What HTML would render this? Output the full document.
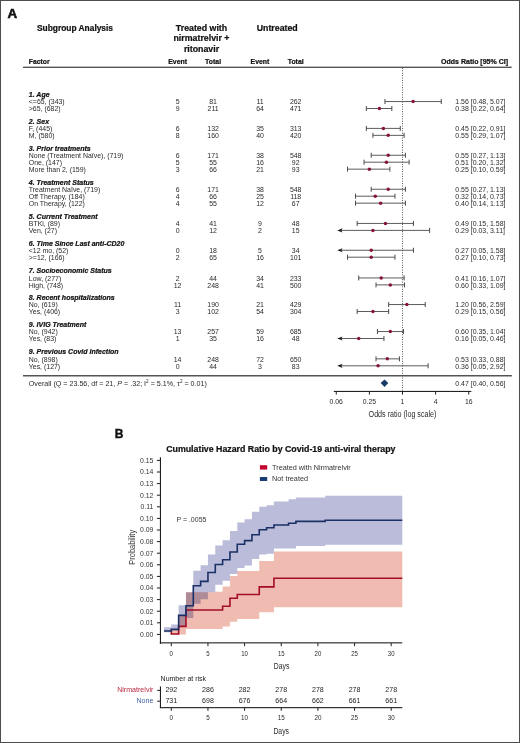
<!DOCTYPE html>
<html><head><meta charset="utf-8"><style>
html,body{margin:0;padding:0;background:#fff;}
body{width:520px;height:743px;overflow:hidden;}
.wrap{position:relative;width:520px;height:743px;box-sizing:border-box;border:1px solid #4d4d4d;}
svg{position:absolute;left:-1px;top:-1px;font-family:"Liberation Sans", sans-serif;}
</style></head><body><div class="wrap">
<svg width="520" height="743" viewBox="0 0 520 743">
<text x="7.6" y="17.6" font-size="12.2" font-weight="bold" fill="#111" stroke="#111" stroke-width="0.5" transform="translate(7.6 0) scale(1.1 1) translate(-7.6 0)">A</text>
<text x="37.00" y="30.50" font-size="8.4" font-weight="bold" fill="#111" stroke="#111" stroke-width="0.22">Subgroup Analysis</text>
<text x="201.50" y="30.80" font-size="8.8" font-weight="bold" text-anchor="middle" fill="#111" stroke="#111" stroke-width="0.22">Treated with</text>
<text x="201.50" y="41.10" font-size="8.8" font-weight="bold" text-anchor="middle" fill="#111" stroke="#111" stroke-width="0.22">nirmatrelvir +</text>
<text x="201.50" y="51.50" font-size="8.8" font-weight="bold" text-anchor="middle" fill="#111" stroke="#111" stroke-width="0.22">ritonavir</text>
<text x="277.20" y="30.80" font-size="8.8" font-weight="bold" text-anchor="middle" fill="#111" stroke="#111" stroke-width="0.22">Untreated</text>
<text x="28.80" y="64.30" font-size="6.8" font-weight="bold" fill="#111" stroke="#111" stroke-width="0.22">Factor</text>
<text x="177.60" y="63.90" font-size="6.9" font-weight="bold" text-anchor="middle" fill="#111" stroke="#111" stroke-width="0.22">Event</text>
<text x="213.10" y="63.90" font-size="6.9" font-weight="bold" text-anchor="middle" fill="#111" stroke="#111" stroke-width="0.22">Total</text>
<text x="260.00" y="63.90" font-size="6.9" font-weight="bold" text-anchor="middle" fill="#111" stroke="#111" stroke-width="0.22">Event</text>
<text x="295.70" y="63.90" font-size="6.9" font-weight="bold" text-anchor="middle" fill="#111" stroke="#111" stroke-width="0.22">Total</text>
<text x="508.00" y="64.10" font-size="7.0" font-weight="bold" text-anchor="end" fill="#111" stroke="#111" stroke-width="0.22">Odds Ratio [95% CI]</text>
<rect x="23" y="66.7" width="488.7" height="1.1" fill="#2b2b2b"/>
<line x1="402.5" y1="68" x2="402.5" y2="391" stroke="#333" stroke-width="0.9" stroke-dasharray="0.9 1.5"/>
<text x="28.80" y="96.90" font-size="7.0" font-weight="bold" font-style="italic" fill="#111" stroke="#111" stroke-width="0.22">1. Age</text>
<text x="28.80" y="104.45" font-size="6.95" fill="#2a2a2a">&lt;=65, (343)</text>
<text x="177.60" y="104.45" font-size="6.95" text-anchor="middle" fill="#2a2a2a">5</text>
<text x="213.10" y="104.45" font-size="6.95" text-anchor="middle" fill="#2a2a2a">81</text>
<text x="260.00" y="104.45" font-size="6.95" text-anchor="middle" fill="#2a2a2a">11</text>
<text x="295.70" y="104.45" font-size="6.95" text-anchor="middle" fill="#2a2a2a">262</text>
<text x="455.30" y="104.45" font-size="6.95" fill="#2a2a2a">1.56 [0.48, 5.07]</text>
<line x1="384.96" y1="101.55" x2="441.28" y2="101.55" stroke="#4a4a4a" stroke-width="0.9"/>
<line x1="384.96" y1="99.05" x2="384.96" y2="104.05" stroke="#4a4a4a" stroke-width="1"/>
<line x1="441.28" y1="99.05" x2="441.28" y2="104.05" stroke="#4a4a4a" stroke-width="1"/>
<circle cx="413.12" cy="101.55" r="1.75" fill="#861534"/>
<text x="28.80" y="111.40" font-size="6.95" fill="#2a2a2a">&gt;65, (682)</text>
<text x="177.60" y="111.40" font-size="6.95" text-anchor="middle" fill="#2a2a2a">9</text>
<text x="213.10" y="111.40" font-size="6.95" text-anchor="middle" fill="#2a2a2a">211</text>
<text x="260.00" y="111.40" font-size="6.95" text-anchor="middle" fill="#2a2a2a">64</text>
<text x="295.70" y="111.40" font-size="6.95" text-anchor="middle" fill="#2a2a2a">471</text>
<text x="455.30" y="111.40" font-size="6.95" fill="#2a2a2a">0.38 [0.22, 0.64]</text>
<line x1="366.33" y1="108.50" x2="391.84" y2="108.50" stroke="#4a4a4a" stroke-width="0.9"/>
<line x1="366.33" y1="106.00" x2="366.33" y2="111.00" stroke="#4a4a4a" stroke-width="1"/>
<line x1="391.84" y1="106.00" x2="391.84" y2="111.00" stroke="#4a4a4a" stroke-width="1"/>
<circle cx="379.38" cy="108.50" r="1.75" fill="#861534"/>
<text x="28.80" y="123.75" font-size="7.0" font-weight="bold" font-style="italic" fill="#111" stroke="#111" stroke-width="0.22">2. Sex</text>
<text x="28.80" y="131.30" font-size="6.95" fill="#2a2a2a">F, (445)</text>
<text x="177.60" y="131.30" font-size="6.95" text-anchor="middle" fill="#2a2a2a">6</text>
<text x="213.10" y="131.30" font-size="6.95" text-anchor="middle" fill="#2a2a2a">132</text>
<text x="260.00" y="131.30" font-size="6.95" text-anchor="middle" fill="#2a2a2a">35</text>
<text x="295.70" y="131.30" font-size="6.95" text-anchor="middle" fill="#2a2a2a">313</text>
<text x="455.30" y="131.30" font-size="6.95" fill="#2a2a2a">0.45 [0.22, 0.91]</text>
<line x1="366.33" y1="128.40" x2="400.25" y2="128.40" stroke="#4a4a4a" stroke-width="0.9"/>
<line x1="366.33" y1="125.90" x2="366.33" y2="130.90" stroke="#4a4a4a" stroke-width="1"/>
<line x1="400.25" y1="125.90" x2="400.25" y2="130.90" stroke="#4a4a4a" stroke-width="1"/>
<circle cx="383.42" cy="128.40" r="1.75" fill="#861534"/>
<text x="28.80" y="138.25" font-size="6.95" fill="#2a2a2a">M, (580)</text>
<text x="177.60" y="138.25" font-size="6.95" text-anchor="middle" fill="#2a2a2a">8</text>
<text x="213.10" y="138.25" font-size="6.95" text-anchor="middle" fill="#2a2a2a">160</text>
<text x="260.00" y="138.25" font-size="6.95" text-anchor="middle" fill="#2a2a2a">40</text>
<text x="295.70" y="138.25" font-size="6.95" text-anchor="middle" fill="#2a2a2a">420</text>
<text x="455.30" y="138.25" font-size="6.95" fill="#2a2a2a">0.55 [0.29, 1.07]</text>
<line x1="372.93" y1="135.35" x2="404.12" y2="135.35" stroke="#4a4a4a" stroke-width="0.9"/>
<line x1="372.93" y1="132.85" x2="372.93" y2="137.85" stroke="#4a4a4a" stroke-width="1"/>
<line x1="404.12" y1="132.85" x2="404.12" y2="137.85" stroke="#4a4a4a" stroke-width="1"/>
<circle cx="388.22" cy="135.35" r="1.75" fill="#861534"/>
<text x="28.80" y="150.60" font-size="7.0" font-weight="bold" font-style="italic" fill="#111" stroke="#111" stroke-width="0.22">3. Prior treatments</text>
<text x="28.80" y="158.15" font-size="6.95" fill="#2a2a2a">None (Treatment Naïve), (719)</text>
<text x="177.60" y="158.15" font-size="6.95" text-anchor="middle" fill="#2a2a2a">6</text>
<text x="213.10" y="158.15" font-size="6.95" text-anchor="middle" fill="#2a2a2a">171</text>
<text x="260.00" y="158.15" font-size="6.95" text-anchor="middle" fill="#2a2a2a">38</text>
<text x="295.70" y="158.15" font-size="6.95" text-anchor="middle" fill="#2a2a2a">548</text>
<text x="455.30" y="158.15" font-size="6.95" fill="#2a2a2a">0.55 [0.27, 1.13]</text>
<line x1="371.22" y1="155.25" x2="405.42" y2="155.25" stroke="#4a4a4a" stroke-width="0.9"/>
<line x1="371.22" y1="152.75" x2="371.22" y2="157.75" stroke="#4a4a4a" stroke-width="1"/>
<line x1="405.42" y1="152.75" x2="405.42" y2="157.75" stroke="#4a4a4a" stroke-width="1"/>
<circle cx="388.22" cy="155.25" r="1.75" fill="#861534"/>
<text x="28.80" y="165.10" font-size="6.95" fill="#2a2a2a">One, (147)</text>
<text x="177.60" y="165.10" font-size="6.95" text-anchor="middle" fill="#2a2a2a">5</text>
<text x="213.10" y="165.10" font-size="6.95" text-anchor="middle" fill="#2a2a2a">55</text>
<text x="260.00" y="165.10" font-size="6.95" text-anchor="middle" fill="#2a2a2a">16</text>
<text x="295.70" y="165.10" font-size="6.95" text-anchor="middle" fill="#2a2a2a">92</text>
<text x="455.30" y="165.10" font-size="6.95" fill="#2a2a2a">0.51 [0.20, 1.32]</text>
<line x1="364.05" y1="162.20" x2="409.13" y2="162.20" stroke="#4a4a4a" stroke-width="0.9"/>
<line x1="364.05" y1="159.70" x2="364.05" y2="164.70" stroke="#4a4a4a" stroke-width="1"/>
<line x1="409.13" y1="159.70" x2="409.13" y2="164.70" stroke="#4a4a4a" stroke-width="1"/>
<circle cx="386.41" cy="162.20" r="1.75" fill="#861534"/>
<text x="28.80" y="172.05" font-size="6.95" fill="#2a2a2a">More than 2, (159)</text>
<text x="177.60" y="172.05" font-size="6.95" text-anchor="middle" fill="#2a2a2a">3</text>
<text x="213.10" y="172.05" font-size="6.95" text-anchor="middle" fill="#2a2a2a">66</text>
<text x="260.00" y="172.05" font-size="6.95" text-anchor="middle" fill="#2a2a2a">21</text>
<text x="295.70" y="172.05" font-size="6.95" text-anchor="middle" fill="#2a2a2a">93</text>
<text x="455.30" y="172.05" font-size="6.95" fill="#2a2a2a">0.25 [0.10, 0.59]</text>
<line x1="347.49" y1="169.15" x2="389.89" y2="169.15" stroke="#4a4a4a" stroke-width="0.9"/>
<line x1="347.49" y1="166.65" x2="347.49" y2="171.65" stroke="#4a4a4a" stroke-width="1"/>
<line x1="389.89" y1="166.65" x2="389.89" y2="171.65" stroke="#4a4a4a" stroke-width="1"/>
<circle cx="369.38" cy="169.15" r="1.75" fill="#861534"/>
<text x="28.80" y="184.60" font-size="7.0" font-weight="bold" font-style="italic" fill="#111" stroke="#111" stroke-width="0.22">4. Treatment Status</text>
<text x="28.80" y="192.15" font-size="6.95" fill="#2a2a2a">Treatment Naïve, (719)</text>
<text x="177.60" y="192.15" font-size="6.95" text-anchor="middle" fill="#2a2a2a">6</text>
<text x="213.10" y="192.15" font-size="6.95" text-anchor="middle" fill="#2a2a2a">171</text>
<text x="260.00" y="192.15" font-size="6.95" text-anchor="middle" fill="#2a2a2a">38</text>
<text x="295.70" y="192.15" font-size="6.95" text-anchor="middle" fill="#2a2a2a">548</text>
<text x="455.30" y="192.15" font-size="6.95" fill="#2a2a2a">0.55 [0.27, 1.13]</text>
<line x1="371.22" y1="189.25" x2="405.42" y2="189.25" stroke="#4a4a4a" stroke-width="0.9"/>
<line x1="371.22" y1="186.75" x2="371.22" y2="191.75" stroke="#4a4a4a" stroke-width="1"/>
<line x1="405.42" y1="186.75" x2="405.42" y2="191.75" stroke="#4a4a4a" stroke-width="1"/>
<circle cx="388.22" cy="189.25" r="1.75" fill="#861534"/>
<text x="28.80" y="199.10" font-size="6.95" fill="#2a2a2a">Off Therapy, (184)</text>
<text x="177.60" y="199.10" font-size="6.95" text-anchor="middle" fill="#2a2a2a">4</text>
<text x="213.10" y="199.10" font-size="6.95" text-anchor="middle" fill="#2a2a2a">66</text>
<text x="260.00" y="199.10" font-size="6.95" text-anchor="middle" fill="#2a2a2a">25</text>
<text x="295.70" y="199.10" font-size="6.95" text-anchor="middle" fill="#2a2a2a">118</text>
<text x="455.30" y="199.10" font-size="6.95" fill="#2a2a2a">0.32 [0.14, 0.73]</text>
<line x1="355.53" y1="196.20" x2="394.98" y2="196.20" stroke="#4a4a4a" stroke-width="0.9"/>
<line x1="355.53" y1="193.70" x2="355.53" y2="198.70" stroke="#4a4a4a" stroke-width="1"/>
<line x1="394.98" y1="193.70" x2="394.98" y2="198.70" stroke="#4a4a4a" stroke-width="1"/>
<circle cx="375.28" cy="196.20" r="1.75" fill="#861534"/>
<text x="28.80" y="206.05" font-size="6.95" fill="#2a2a2a">On Therapy, (122)</text>
<text x="177.60" y="206.05" font-size="6.95" text-anchor="middle" fill="#2a2a2a">4</text>
<text x="213.10" y="206.05" font-size="6.95" text-anchor="middle" fill="#2a2a2a">55</text>
<text x="260.00" y="206.05" font-size="6.95" text-anchor="middle" fill="#2a2a2a">12</text>
<text x="295.70" y="206.05" font-size="6.95" text-anchor="middle" fill="#2a2a2a">67</text>
<text x="455.30" y="206.05" font-size="6.95" fill="#2a2a2a">0.40 [0.14, 1.13]</text>
<line x1="355.53" y1="203.15" x2="405.42" y2="203.15" stroke="#4a4a4a" stroke-width="0.9"/>
<line x1="355.53" y1="200.65" x2="355.53" y2="205.65" stroke="#4a4a4a" stroke-width="1"/>
<line x1="405.42" y1="200.65" x2="405.42" y2="205.65" stroke="#4a4a4a" stroke-width="1"/>
<circle cx="380.61" cy="203.15" r="1.75" fill="#861534"/>
<text x="28.80" y="218.80" font-size="7.0" font-weight="bold" font-style="italic" fill="#111" stroke="#111" stroke-width="0.22">5. Current Treatment</text>
<text x="28.80" y="226.35" font-size="6.95" fill="#2a2a2a">BTKi, (89)</text>
<text x="177.60" y="226.35" font-size="6.95" text-anchor="middle" fill="#2a2a2a">4</text>
<text x="213.10" y="226.35" font-size="6.95" text-anchor="middle" fill="#2a2a2a">41</text>
<text x="260.00" y="226.35" font-size="6.95" text-anchor="middle" fill="#2a2a2a">9</text>
<text x="295.70" y="226.35" font-size="6.95" text-anchor="middle" fill="#2a2a2a">48</text>
<text x="455.30" y="226.35" font-size="6.95" fill="#2a2a2a">0.49 [0.15, 1.58]</text>
<line x1="357.18" y1="223.45" x2="413.43" y2="223.45" stroke="#4a4a4a" stroke-width="0.9"/>
<line x1="357.18" y1="220.95" x2="357.18" y2="225.95" stroke="#4a4a4a" stroke-width="1"/>
<line x1="413.43" y1="220.95" x2="413.43" y2="225.95" stroke="#4a4a4a" stroke-width="1"/>
<circle cx="385.46" cy="223.45" r="1.75" fill="#861534"/>
<text x="28.80" y="233.30" font-size="6.95" fill="#2a2a2a">Ven, (27)</text>
<text x="177.60" y="233.30" font-size="6.95" text-anchor="middle" fill="#2a2a2a">0</text>
<text x="213.10" y="233.30" font-size="6.95" text-anchor="middle" fill="#2a2a2a">12</text>
<text x="260.00" y="233.30" font-size="6.95" text-anchor="middle" fill="#2a2a2a">2</text>
<text x="295.70" y="233.30" font-size="6.95" text-anchor="middle" fill="#2a2a2a">15</text>
<text x="455.30" y="233.30" font-size="6.95" fill="#2a2a2a">0.29 [0.03, 3.11]</text>
<line x1="340.5" y1="230.40" x2="429.61" y2="230.40" stroke="#4a4a4a" stroke-width="0.9"/>
<path d="M337.2 230.40 L342.6 228.30 L341.3 230.40 L342.6 232.50 Z" fill="#1a1a1a"/>
<line x1="429.61" y1="227.90" x2="429.61" y2="232.90" stroke="#4a4a4a" stroke-width="1"/>
<circle cx="372.93" cy="230.40" r="1.75" fill="#861534"/>
<text x="28.80" y="245.60" font-size="7.0" font-weight="bold" font-style="italic" fill="#111" stroke="#111" stroke-width="0.22">6. Time Since Last anti-CD20</text>
<text x="28.80" y="253.15" font-size="6.95" fill="#2a2a2a">&lt;12 mo, (52)</text>
<text x="177.60" y="253.15" font-size="6.95" text-anchor="middle" fill="#2a2a2a">0</text>
<text x="213.10" y="253.15" font-size="6.95" text-anchor="middle" fill="#2a2a2a">18</text>
<text x="260.00" y="253.15" font-size="6.95" text-anchor="middle" fill="#2a2a2a">5</text>
<text x="295.70" y="253.15" font-size="6.95" text-anchor="middle" fill="#2a2a2a">34</text>
<text x="455.30" y="253.15" font-size="6.95" fill="#2a2a2a">0.27 [0.05, 1.58]</text>
<line x1="340.5" y1="250.25" x2="413.43" y2="250.25" stroke="#4a4a4a" stroke-width="0.9"/>
<path d="M337.2 250.25 L342.6 248.15 L341.3 250.25 L342.6 252.35 Z" fill="#1a1a1a"/>
<line x1="413.43" y1="247.75" x2="413.43" y2="252.75" stroke="#4a4a4a" stroke-width="1"/>
<circle cx="371.22" cy="250.25" r="1.75" fill="#861534"/>
<text x="28.80" y="260.10" font-size="6.95" fill="#2a2a2a">&gt;=12, (166)</text>
<text x="177.60" y="260.10" font-size="6.95" text-anchor="middle" fill="#2a2a2a">2</text>
<text x="213.10" y="260.10" font-size="6.95" text-anchor="middle" fill="#2a2a2a">65</text>
<text x="260.00" y="260.10" font-size="6.95" text-anchor="middle" fill="#2a2a2a">16</text>
<text x="295.70" y="260.10" font-size="6.95" text-anchor="middle" fill="#2a2a2a">101</text>
<text x="455.30" y="260.10" font-size="6.95" fill="#2a2a2a">0.27 [0.10, 0.73]</text>
<line x1="347.49" y1="257.20" x2="394.98" y2="257.20" stroke="#4a4a4a" stroke-width="0.9"/>
<line x1="347.49" y1="254.70" x2="347.49" y2="259.70" stroke="#4a4a4a" stroke-width="1"/>
<line x1="394.98" y1="254.70" x2="394.98" y2="259.70" stroke="#4a4a4a" stroke-width="1"/>
<circle cx="371.22" cy="257.20" r="1.75" fill="#861534"/>
<text x="28.80" y="273.30" font-size="7.0" font-weight="bold" font-style="italic" fill="#111" stroke="#111" stroke-width="0.22">7. Socioeconomic Status</text>
<text x="28.80" y="280.85" font-size="6.95" fill="#2a2a2a">Low, (277)</text>
<text x="177.60" y="280.85" font-size="6.95" text-anchor="middle" fill="#2a2a2a">2</text>
<text x="213.10" y="280.85" font-size="6.95" text-anchor="middle" fill="#2a2a2a">44</text>
<text x="260.00" y="280.85" font-size="6.95" text-anchor="middle" fill="#2a2a2a">34</text>
<text x="295.70" y="280.85" font-size="6.95" text-anchor="middle" fill="#2a2a2a">233</text>
<text x="455.30" y="280.85" font-size="6.95" fill="#2a2a2a">0.41 [0.16, 1.07]</text>
<line x1="358.72" y1="277.95" x2="404.12" y2="277.95" stroke="#4a4a4a" stroke-width="0.9"/>
<line x1="358.72" y1="275.45" x2="358.72" y2="280.45" stroke="#4a4a4a" stroke-width="1"/>
<line x1="404.12" y1="275.45" x2="404.12" y2="280.45" stroke="#4a4a4a" stroke-width="1"/>
<circle cx="381.20" cy="277.95" r="1.75" fill="#861534"/>
<text x="28.80" y="287.80" font-size="6.95" fill="#2a2a2a">High, (748)</text>
<text x="177.60" y="287.80" font-size="6.95" text-anchor="middle" fill="#2a2a2a">12</text>
<text x="213.10" y="287.80" font-size="6.95" text-anchor="middle" fill="#2a2a2a">248</text>
<text x="260.00" y="287.80" font-size="6.95" text-anchor="middle" fill="#2a2a2a">41</text>
<text x="295.70" y="287.80" font-size="6.95" text-anchor="middle" fill="#2a2a2a">500</text>
<text x="455.30" y="287.80" font-size="6.95" fill="#2a2a2a">0.60 [0.33, 1.09]</text>
<line x1="376.01" y1="284.90" x2="404.56" y2="284.90" stroke="#4a4a4a" stroke-width="0.9"/>
<line x1="376.01" y1="282.40" x2="376.01" y2="287.40" stroke="#4a4a4a" stroke-width="1"/>
<line x1="404.56" y1="282.40" x2="404.56" y2="287.40" stroke="#4a4a4a" stroke-width="1"/>
<circle cx="390.30" cy="284.90" r="1.75" fill="#861534"/>
<text x="28.80" y="299.90" font-size="7.0" font-weight="bold" font-style="italic" fill="#111" stroke="#111" stroke-width="0.22">8. Recent hospitalizations</text>
<text x="28.80" y="307.45" font-size="6.95" fill="#2a2a2a">No, (619)</text>
<text x="177.60" y="307.45" font-size="6.95" text-anchor="middle" fill="#2a2a2a">11</text>
<text x="213.10" y="307.45" font-size="6.95" text-anchor="middle" fill="#2a2a2a">190</text>
<text x="260.00" y="307.45" font-size="6.95" text-anchor="middle" fill="#2a2a2a">21</text>
<text x="295.70" y="307.45" font-size="6.95" text-anchor="middle" fill="#2a2a2a">429</text>
<text x="455.30" y="307.45" font-size="6.95" fill="#2a2a2a">1.20 [0.56, 2.59]</text>
<line x1="388.65" y1="304.55" x2="425.24" y2="304.55" stroke="#4a4a4a" stroke-width="0.9"/>
<line x1="388.65" y1="302.05" x2="388.65" y2="307.05" stroke="#4a4a4a" stroke-width="1"/>
<line x1="425.24" y1="302.05" x2="425.24" y2="307.05" stroke="#4a4a4a" stroke-width="1"/>
<circle cx="406.86" cy="304.55" r="1.75" fill="#861534"/>
<text x="28.80" y="314.40" font-size="6.95" fill="#2a2a2a">Yes, (406)</text>
<text x="177.60" y="314.40" font-size="6.95" text-anchor="middle" fill="#2a2a2a">3</text>
<text x="213.10" y="314.40" font-size="6.95" text-anchor="middle" fill="#2a2a2a">102</text>
<text x="260.00" y="314.40" font-size="6.95" text-anchor="middle" fill="#2a2a2a">54</text>
<text x="295.70" y="314.40" font-size="6.95" text-anchor="middle" fill="#2a2a2a">304</text>
<text x="455.30" y="314.40" font-size="6.95" fill="#2a2a2a">0.29 [0.15, 0.56]</text>
<line x1="357.18" y1="311.50" x2="388.65" y2="311.50" stroke="#4a4a4a" stroke-width="0.9"/>
<line x1="357.18" y1="309.00" x2="357.18" y2="314.00" stroke="#4a4a4a" stroke-width="1"/>
<line x1="388.65" y1="309.00" x2="388.65" y2="314.00" stroke="#4a4a4a" stroke-width="1"/>
<circle cx="372.93" cy="311.50" r="1.75" fill="#861534"/>
<text x="28.80" y="326.90" font-size="7.0" font-weight="bold" font-style="italic" fill="#111" stroke="#111" stroke-width="0.22">9. IVIG Treatment</text>
<text x="28.80" y="334.45" font-size="6.95" fill="#2a2a2a">No, (942)</text>
<text x="177.60" y="334.45" font-size="6.95" text-anchor="middle" fill="#2a2a2a">13</text>
<text x="213.10" y="334.45" font-size="6.95" text-anchor="middle" fill="#2a2a2a">257</text>
<text x="260.00" y="334.45" font-size="6.95" text-anchor="middle" fill="#2a2a2a">59</text>
<text x="295.70" y="334.45" font-size="6.95" text-anchor="middle" fill="#2a2a2a">685</text>
<text x="455.30" y="334.45" font-size="6.95" fill="#2a2a2a">0.60 [0.35, 1.04]</text>
<line x1="377.42" y1="331.55" x2="403.44" y2="331.55" stroke="#4a4a4a" stroke-width="0.9"/>
<line x1="377.42" y1="329.05" x2="377.42" y2="334.05" stroke="#4a4a4a" stroke-width="1"/>
<line x1="403.44" y1="329.05" x2="403.44" y2="334.05" stroke="#4a4a4a" stroke-width="1"/>
<circle cx="390.30" cy="331.55" r="1.75" fill="#861534"/>
<text x="28.80" y="341.40" font-size="6.95" fill="#2a2a2a">Yes, (83)</text>
<text x="177.60" y="341.40" font-size="6.95" text-anchor="middle" fill="#2a2a2a">1</text>
<text x="213.10" y="341.40" font-size="6.95" text-anchor="middle" fill="#2a2a2a">35</text>
<text x="260.00" y="341.40" font-size="6.95" text-anchor="middle" fill="#2a2a2a">16</text>
<text x="295.70" y="341.40" font-size="6.95" text-anchor="middle" fill="#2a2a2a">48</text>
<text x="455.30" y="341.40" font-size="6.95" fill="#2a2a2a">0.16 [0.05, 0.46]</text>
<line x1="340.5" y1="338.50" x2="383.95" y2="338.50" stroke="#4a4a4a" stroke-width="0.9"/>
<path d="M337.2 338.50 L342.6 336.40 L341.3 338.50 L342.6 340.60 Z" fill="#1a1a1a"/>
<line x1="383.95" y1="336.00" x2="383.95" y2="341.00" stroke="#4a4a4a" stroke-width="1"/>
<circle cx="358.72" cy="338.50" r="1.75" fill="#861534"/>
<text x="28.80" y="354.20" font-size="7.0" font-weight="bold" font-style="italic" fill="#111" stroke="#111" stroke-width="0.22">9. Previous Covid Infection</text>
<text x="28.80" y="361.75" font-size="6.95" fill="#2a2a2a">No, (898)</text>
<text x="177.60" y="361.75" font-size="6.95" text-anchor="middle" fill="#2a2a2a">14</text>
<text x="213.10" y="361.75" font-size="6.95" text-anchor="middle" fill="#2a2a2a">248</text>
<text x="260.00" y="361.75" font-size="6.95" text-anchor="middle" fill="#2a2a2a">72</text>
<text x="295.70" y="361.75" font-size="6.95" text-anchor="middle" fill="#2a2a2a">650</text>
<text x="455.30" y="361.75" font-size="6.95" fill="#2a2a2a">0.53 [0.33, 0.88]</text>
<line x1="376.01" y1="358.85" x2="399.45" y2="358.85" stroke="#4a4a4a" stroke-width="0.9"/>
<line x1="376.01" y1="356.35" x2="376.01" y2="361.35" stroke="#4a4a4a" stroke-width="1"/>
<line x1="399.45" y1="356.35" x2="399.45" y2="361.35" stroke="#4a4a4a" stroke-width="1"/>
<circle cx="387.33" cy="358.85" r="1.75" fill="#861534"/>
<text x="28.80" y="368.70" font-size="6.95" fill="#2a2a2a">Yes, (127)</text>
<text x="177.60" y="368.70" font-size="6.95" text-anchor="middle" fill="#2a2a2a">0</text>
<text x="213.10" y="368.70" font-size="6.95" text-anchor="middle" fill="#2a2a2a">44</text>
<text x="260.00" y="368.70" font-size="6.95" text-anchor="middle" fill="#2a2a2a">3</text>
<text x="295.70" y="368.70" font-size="6.95" text-anchor="middle" fill="#2a2a2a">83</text>
<text x="455.30" y="368.70" font-size="6.95" fill="#2a2a2a">0.36 [0.05, 2.92]</text>
<line x1="340.5" y1="365.80" x2="428.10" y2="365.80" stroke="#4a4a4a" stroke-width="0.9"/>
<path d="M337.2 365.80 L342.6 363.70 L341.3 365.80 L342.6 367.90 Z" fill="#1a1a1a"/>
<line x1="428.10" y1="363.30" x2="428.10" y2="368.30" stroke="#4a4a4a" stroke-width="1"/>
<circle cx="378.09" cy="365.80" r="1.75" fill="#861534"/>
<rect x="23" y="375.2" width="488.9" height="1.2" fill="#2b2b2b"/>
<text x="28.8" y="385.7" font-size="7.15" fill="#2a2a2a">Overall (Q = 23.56, df = 21, <tspan font-style="italic">P</tspan> = .32; I<tspan font-size="4.6" dy="-2.4">2</tspan><tspan dy="2.4"> = 5.1%, τ</tspan><tspan font-size="4.6" dy="-2.4">2</tspan><tspan dy="2.4"> = 0.01)</tspan></text>
<text x="455.30" y="386.20" font-size="6.95" fill="#2a2a2a">0.47 [0.40, 0.56]</text>
<path d="M384.5 379.4 L388.3 383.1 L384.5 386.9 L380.7 383.1 Z" fill="#173a68"/>
<rect x="333.8" y="390.9" width="137.5" height="1.1" fill="#222"/>
<rect x="335.76" y="391" width="1" height="3.6" fill="#222"/>
<text x="336.26" y="403.7" font-size="7.6" text-anchor="middle" fill="#2a2a2a" transform="translate(336.26 0) scale(0.9 1) translate(-336.26 0)">0.06</text>
<rect x="368.88" y="391" width="1" height="3.6" fill="#222"/>
<text x="369.38" y="403.7" font-size="7.6" text-anchor="middle" fill="#2a2a2a" transform="translate(369.38 0) scale(0.9 1) translate(-369.38 0)">0.25</text>
<rect x="402.00" y="391" width="1" height="3.6" fill="#222"/>
<text x="402.50" y="403.7" font-size="7.6" text-anchor="middle" fill="#2a2a2a" transform="translate(402.50 0) scale(0.9 1) translate(-402.50 0)">1</text>
<rect x="435.12" y="391" width="1" height="3.6" fill="#222"/>
<text x="435.62" y="403.7" font-size="7.6" text-anchor="middle" fill="#2a2a2a" transform="translate(435.62 0) scale(0.9 1) translate(-435.62 0)">4</text>
<rect x="468.24" y="391" width="1" height="3.6" fill="#222"/>
<text x="468.74" y="403.7" font-size="7.6" text-anchor="middle" fill="#2a2a2a" transform="translate(468.74 0) scale(0.9 1) translate(-468.74 0)">16</text>
<text x="402.5" y="416.7" font-size="8.3" text-anchor="middle" fill="#2a2a2a" transform="translate(402.5 0) scale(0.86 1) translate(-402.5 0)">Odds ratio (log scale)</text>
<text x="114.8" y="437.8" font-size="12" font-weight="bold" fill="#111" stroke="#111" stroke-width="0.4">B</text>
<text x="280.85" y="451.50" font-size="8.8" font-weight="bold" text-anchor="middle" fill="#111" stroke="#111" stroke-width="0.22">Cumulative Hazard Ratio by Covid-19 anti-viral therapy</text>
<path d="M163.97 627.30 L171.30 627.30 L171.30 624.60 L178.63 624.60 L178.63 605.20 L185.96 605.20 L185.96 592.30 L193.29 592.30 L193.29 570.70 L200.62 570.70 L200.62 565.20 L207.95 565.20 L207.95 554.40 L215.28 554.40 L215.28 545.60 L222.61 545.60 L222.61 540.20 L229.94 540.20 L229.94 531.10 L237.27 531.10 L237.27 522.40 L244.60 522.40 L244.60 519.20 L251.93 519.20 L251.93 511.80 L259.26 511.80 L259.26 506.80 L266.59 506.80 L266.59 505.30 L273.92 505.30 L273.92 501.50 L288.58 501.50 L288.58 499.20 L295.91 499.20 L295.91 497.50 L325.23 497.50 L325.23 495.70 L402.30 495.70 L402.30 544.70 L325.23 544.70 L325.23 546.10 L295.91 546.10 L295.91 548.50 L273.92 548.50 L273.92 553.80 L266.59 553.80 L266.59 554.50 L259.26 554.50 L259.26 559.00 L251.93 559.00 L251.93 565.50 L244.60 565.50 L244.60 568.00 L237.27 568.00 L237.27 574.00 L229.94 574.00 L229.94 580.80 L222.61 580.80 L222.61 584.80 L215.28 584.80 L215.28 592.30 L207.95 592.30 L207.95 599.30 L200.62 599.30 L200.62 603.80 L193.29 603.80 L193.29 618.00 L185.96 618.00 L185.96 626.50 L178.63 626.50 L178.63 630.20 L171.30 630.20 L171.30 632.30 L163.97 632.30 Z" fill="#2f358f" fill-opacity="0.33"/>
<path d="M171.30 629.50 L178.63 629.50 L178.63 615.80 L185.96 615.80 L185.96 592.30 L215.28 592.30 L215.28 591.70 L222.61 591.70 L222.61 586.50 L229.94 586.50 L229.94 576.00 L237.27 576.00 L237.27 571.00 L259.26 571.00 L259.26 561.00 L273.92 561.00 L273.92 551.40 L402.30 551.40 L402.30 607.20 L273.92 607.20 L273.92 612.30 L259.26 612.30 L259.26 619.00 L237.27 619.00 L237.27 621.80 L229.94 621.80 L229.94 626.50 L222.61 626.50 L222.61 628.90 L185.96 628.90 L185.96 634.60 L178.63 634.60 L178.63 634.60 L171.30 634.60 Z" fill="#e0705a" fill-opacity="0.47" style="mix-blend-mode:multiply"/>
<path d="M171.30 629.6 L171.30 634.00 L178.63 634.00 L178.63 626.40 L185.96 626.40 L185.96 610.00 L222.61 610.00 L222.61 606.20 L229.94 606.20 L229.94 598.30 L237.27 598.30 L237.27 594.50 L259.26 594.50 L259.26 586.90 L273.92 586.90 L273.92 578.30 L402.30 578.30" fill="none" stroke="#a40d27" stroke-width="1.6"/>
<path d="M163.97 631.00 L171.30 631.00 L171.30 629.40 L178.63 629.40 L178.63 615.40 L185.96 615.40 L185.96 605.70 L193.29 605.70 L193.29 585.80 L200.62 585.80 L200.62 581.40 L207.95 581.40 L207.95 572.50 L215.28 572.50 L215.28 564.50 L222.61 564.50 L222.61 559.80 L229.94 559.80 L229.94 552.00 L237.27 552.00 L237.27 544.20 L244.60 544.20 L244.60 540.60 L251.93 540.60 L251.93 534.70 L259.26 534.70 L259.26 529.70 L266.59 529.70 L266.59 527.80 L273.92 527.80 L273.92 525.00 L288.58 525.00 L288.58 523.30 L295.91 523.30 L295.91 521.40 L325.23 521.40 L325.23 520.30 L402.30 520.30" fill="none" stroke="#1b3066" stroke-width="1.6"/>
<rect x="159.9" y="457.3" width="1.1" height="186.5" fill="#1e1e1e"/>
<rect x="159.8" y="642.3" width="242.4" height="1.1" fill="#1e1e1e"/>
<rect x="156.9" y="633.90" width="3.2" height="1" fill="#1e1e1e"/>
<text x="153.4" y="636.85" font-size="7.2" text-anchor="end" fill="#333" transform="translate(153.4 0) scale(0.95 1) translate(-153.4 0)">0.00</text>
<rect x="156.9" y="622.30" width="3.2" height="1" fill="#1e1e1e"/>
<text x="153.4" y="625.25" font-size="7.2" text-anchor="end" fill="#333" transform="translate(153.4 0) scale(0.95 1) translate(-153.4 0)">0.01</text>
<rect x="156.9" y="610.70" width="3.2" height="1" fill="#1e1e1e"/>
<text x="153.4" y="613.65" font-size="7.2" text-anchor="end" fill="#333" transform="translate(153.4 0) scale(0.95 1) translate(-153.4 0)">0.02</text>
<rect x="156.9" y="599.10" width="3.2" height="1" fill="#1e1e1e"/>
<text x="153.4" y="602.05" font-size="7.2" text-anchor="end" fill="#333" transform="translate(153.4 0) scale(0.95 1) translate(-153.4 0)">0.03</text>
<rect x="156.9" y="587.50" width="3.2" height="1" fill="#1e1e1e"/>
<text x="153.4" y="590.45" font-size="7.2" text-anchor="end" fill="#333" transform="translate(153.4 0) scale(0.95 1) translate(-153.4 0)">0.04</text>
<rect x="156.9" y="575.90" width="3.2" height="1" fill="#1e1e1e"/>
<text x="153.4" y="578.85" font-size="7.2" text-anchor="end" fill="#333" transform="translate(153.4 0) scale(0.95 1) translate(-153.4 0)">0.05</text>
<rect x="156.9" y="564.30" width="3.2" height="1" fill="#1e1e1e"/>
<text x="153.4" y="567.25" font-size="7.2" text-anchor="end" fill="#333" transform="translate(153.4 0) scale(0.95 1) translate(-153.4 0)">0.06</text>
<rect x="156.9" y="552.70" width="3.2" height="1" fill="#1e1e1e"/>
<text x="153.4" y="555.65" font-size="7.2" text-anchor="end" fill="#333" transform="translate(153.4 0) scale(0.95 1) translate(-153.4 0)">0.07</text>
<rect x="156.9" y="541.10" width="3.2" height="1" fill="#1e1e1e"/>
<text x="153.4" y="544.05" font-size="7.2" text-anchor="end" fill="#333" transform="translate(153.4 0) scale(0.95 1) translate(-153.4 0)">0.08</text>
<rect x="156.9" y="529.50" width="3.2" height="1" fill="#1e1e1e"/>
<text x="153.4" y="532.45" font-size="7.2" text-anchor="end" fill="#333" transform="translate(153.4 0) scale(0.95 1) translate(-153.4 0)">0.09</text>
<rect x="156.9" y="517.90" width="3.2" height="1" fill="#1e1e1e"/>
<text x="153.4" y="520.85" font-size="7.2" text-anchor="end" fill="#333" transform="translate(153.4 0) scale(0.95 1) translate(-153.4 0)">0.10</text>
<rect x="156.9" y="506.30" width="3.2" height="1" fill="#1e1e1e"/>
<text x="153.4" y="509.25" font-size="7.2" text-anchor="end" fill="#333" transform="translate(153.4 0) scale(0.95 1) translate(-153.4 0)">0.11</text>
<rect x="156.9" y="494.70" width="3.2" height="1" fill="#1e1e1e"/>
<text x="153.4" y="497.65" font-size="7.2" text-anchor="end" fill="#333" transform="translate(153.4 0) scale(0.95 1) translate(-153.4 0)">0.12</text>
<rect x="156.9" y="483.10" width="3.2" height="1" fill="#1e1e1e"/>
<text x="153.4" y="486.05" font-size="7.2" text-anchor="end" fill="#333" transform="translate(153.4 0) scale(0.95 1) translate(-153.4 0)">0.13</text>
<rect x="156.9" y="471.50" width="3.2" height="1" fill="#1e1e1e"/>
<text x="153.4" y="474.45" font-size="7.2" text-anchor="end" fill="#333" transform="translate(153.4 0) scale(0.95 1) translate(-153.4 0)">0.14</text>
<rect x="156.9" y="459.90" width="3.2" height="1" fill="#1e1e1e"/>
<text x="153.4" y="462.85" font-size="7.2" text-anchor="end" fill="#333" transform="translate(153.4 0) scale(0.95 1) translate(-153.4 0)">0.15</text>
<rect x="170.80" y="643" width="1" height="3.2" fill="#1e1e1e"/>
<text x="171.30" y="655.7" font-size="7.2" text-anchor="middle" fill="#2a2a2a" transform="translate(171.30 0) scale(0.84 1) translate(-171.30 0)">0</text>
<rect x="207.45" y="643" width="1" height="3.2" fill="#1e1e1e"/>
<text x="207.95" y="655.7" font-size="7.2" text-anchor="middle" fill="#2a2a2a" transform="translate(207.95 0) scale(0.84 1) translate(-207.95 0)">5</text>
<rect x="244.10" y="643" width="1" height="3.2" fill="#1e1e1e"/>
<text x="244.60" y="655.7" font-size="7.2" text-anchor="middle" fill="#2a2a2a" transform="translate(244.60 0) scale(0.84 1) translate(-244.60 0)">10</text>
<rect x="280.75" y="643" width="1" height="3.2" fill="#1e1e1e"/>
<text x="281.25" y="655.7" font-size="7.2" text-anchor="middle" fill="#2a2a2a" transform="translate(281.25 0) scale(0.84 1) translate(-281.25 0)">15</text>
<rect x="317.40" y="643" width="1" height="3.2" fill="#1e1e1e"/>
<text x="317.90" y="655.7" font-size="7.2" text-anchor="middle" fill="#2a2a2a" transform="translate(317.90 0) scale(0.84 1) translate(-317.90 0)">20</text>
<rect x="354.05" y="643" width="1" height="3.2" fill="#1e1e1e"/>
<text x="354.55" y="655.7" font-size="7.2" text-anchor="middle" fill="#2a2a2a" transform="translate(354.55 0) scale(0.84 1) translate(-354.55 0)">25</text>
<rect x="390.70" y="643" width="1" height="3.2" fill="#1e1e1e"/>
<text x="391.20" y="655.7" font-size="7.2" text-anchor="middle" fill="#2a2a2a" transform="translate(391.20 0) scale(0.84 1) translate(-391.20 0)">30</text>
<text x="281.6" y="668.9" font-size="9" text-anchor="middle" fill="#2a2a2a" transform="translate(281.6 0) scale(0.76 1) translate(-281.6 0)">Days</text>
<text transform="translate(134.6 547.3) rotate(-90) scale(0.83 1)" x="0" y="0" font-size="9" text-anchor="middle" fill="#333">Probability</text>
<text x="176.4" y="521.8" font-size="7" fill="#333">P = .0055</text>
<rect x="259.9" y="465.2" width="7.3" height="4.4" fill="#c4072e"/>
<rect x="259.9" y="477" width="7.3" height="4" fill="#1c3c76"/>
<text x="272.10" y="470.10" font-size="7.25" fill="#333">Treated with Nirmatrelvir</text>
<text x="272.10" y="481.10" font-size="7.25" fill="#333">Not treated</text>
<text x="160.60" y="681.40" font-size="7" fill="#222">Number at risk</text>
<text x="153.40" y="691.80" font-size="7.1" text-anchor="end" fill="#bb2844">Nirmatrelvir</text>
<text x="153.40" y="702.50" font-size="7.1" text-anchor="end" fill="#44639a">None</text>
<rect x="159.9" y="686.4" width="1.1" height="21.7" fill="#1e1e1e"/>
<rect x="159.9" y="707.1" width="242.4" height="1.1" fill="#1e1e1e"/>
<rect x="157.2" y="689.9" width="3" height="1" fill="#1e1e1e"/>
<rect x="157.2" y="700.7" width="3" height="1" fill="#1e1e1e"/>
<text x="171.30" y="691.80" font-size="7.05" text-anchor="middle" fill="#222">292</text>
<text x="171.30" y="702.60" font-size="7.05" text-anchor="middle" fill="#222">731</text>
<rect x="170.80" y="707.8" width="1" height="3" fill="#1e1e1e"/>
<text x="171.30" y="720.2" font-size="7.3" text-anchor="middle" fill="#2a2a2a" transform="translate(171.30 0) scale(0.86 1) translate(-171.30 0)">0</text>
<text x="207.95" y="691.80" font-size="7.05" text-anchor="middle" fill="#222">286</text>
<text x="207.95" y="702.60" font-size="7.05" text-anchor="middle" fill="#222">698</text>
<rect x="207.45" y="707.8" width="1" height="3" fill="#1e1e1e"/>
<text x="207.95" y="720.2" font-size="7.3" text-anchor="middle" fill="#2a2a2a" transform="translate(207.95 0) scale(0.86 1) translate(-207.95 0)">5</text>
<text x="244.60" y="691.80" font-size="7.05" text-anchor="middle" fill="#222">282</text>
<text x="244.60" y="702.60" font-size="7.05" text-anchor="middle" fill="#222">676</text>
<rect x="244.10" y="707.8" width="1" height="3" fill="#1e1e1e"/>
<text x="244.60" y="720.2" font-size="7.3" text-anchor="middle" fill="#2a2a2a" transform="translate(244.60 0) scale(0.86 1) translate(-244.60 0)">10</text>
<text x="281.25" y="691.80" font-size="7.05" text-anchor="middle" fill="#222">278</text>
<text x="281.25" y="702.60" font-size="7.05" text-anchor="middle" fill="#222">664</text>
<rect x="280.75" y="707.8" width="1" height="3" fill="#1e1e1e"/>
<text x="281.25" y="720.2" font-size="7.3" text-anchor="middle" fill="#2a2a2a" transform="translate(281.25 0) scale(0.86 1) translate(-281.25 0)">15</text>
<text x="317.90" y="691.80" font-size="7.05" text-anchor="middle" fill="#222">278</text>
<text x="317.90" y="702.60" font-size="7.05" text-anchor="middle" fill="#222">662</text>
<rect x="317.40" y="707.8" width="1" height="3" fill="#1e1e1e"/>
<text x="317.90" y="720.2" font-size="7.3" text-anchor="middle" fill="#2a2a2a" transform="translate(317.90 0) scale(0.86 1) translate(-317.90 0)">20</text>
<text x="354.55" y="691.80" font-size="7.05" text-anchor="middle" fill="#222">278</text>
<text x="354.55" y="702.60" font-size="7.05" text-anchor="middle" fill="#222">661</text>
<rect x="354.05" y="707.8" width="1" height="3" fill="#1e1e1e"/>
<text x="354.55" y="720.2" font-size="7.3" text-anchor="middle" fill="#2a2a2a" transform="translate(354.55 0) scale(0.86 1) translate(-354.55 0)">25</text>
<text x="391.20" y="691.80" font-size="7.05" text-anchor="middle" fill="#222">278</text>
<text x="391.20" y="702.60" font-size="7.05" text-anchor="middle" fill="#222">661</text>
<rect x="390.70" y="707.8" width="1" height="3" fill="#1e1e1e"/>
<text x="391.20" y="720.2" font-size="7.3" text-anchor="middle" fill="#2a2a2a" transform="translate(391.20 0) scale(0.86 1) translate(-391.20 0)">30</text>
<text x="281.2" y="734.4" font-size="9" text-anchor="middle" fill="#2a2a2a" transform="translate(281.2 0) scale(0.76 1) translate(-281.2 0)">Days</text>
</svg></div></body></html>
